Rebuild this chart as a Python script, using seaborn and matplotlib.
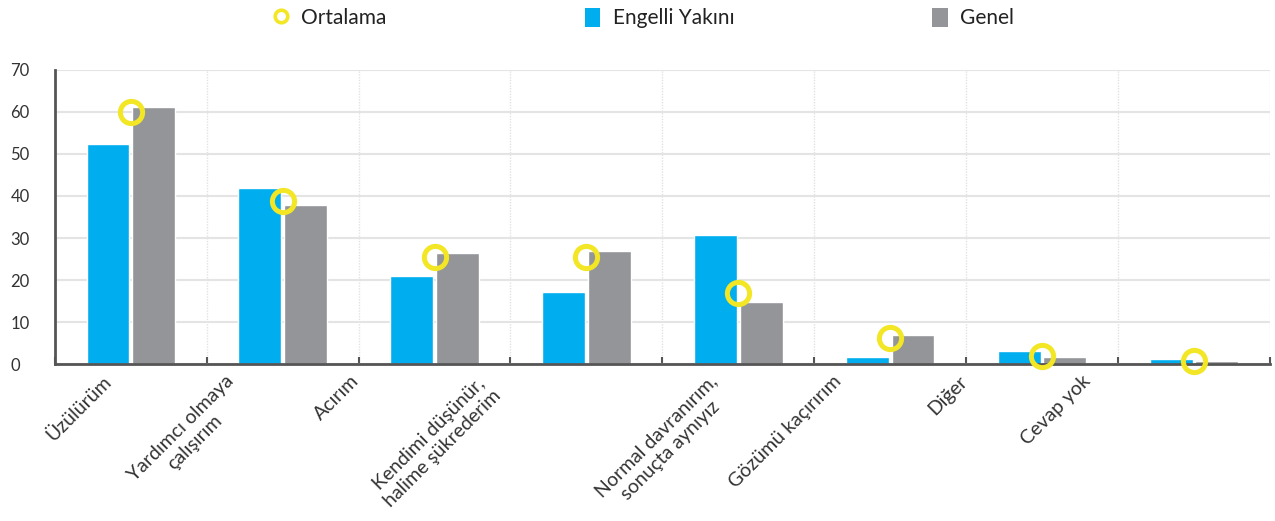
import numpy as np
import pandas as pd
import seaborn as sns
import matplotlib.pyplot as plt
from matplotlib.transforms import ScaledTranslation
from matplotlib.lines import Line2D
from matplotlib.patches import Patch

# data
categories = ["Üzülürüm", "Yardımcı olmaya\nçalışırım", "Acırım",
              "Kendimi düşünür,\nhalime şükrederim", "Normal davranırım,\nsonuçta aynıyız",
              "Gözümü kaçırırım", "Diğer", "Cevap yok"]
engelli_yakini = [52.4, 41.9, 21.0, 17.1, 30.7, 1.7, 3.1, 1.2]
genel = [61.2, 37.9, 26.4, 26.9, 14.8, 6.9, 1.7, 0.7]
ortalama = [60.0, 38.8, 25.5, 25.5, 16.9, 6.2, 1.9, 0.7]
series_names = ["Engelli Yakını", "Genel"]

blue = "#00AEEF"
grey = "#949599"
yellow = "#F2E625"
txt = "#333333"

df = pd.DataFrame({
    "kategori": categories * 2,
    "deger": engelli_yakini + genel,
    "seri": [series_names[0]] * len(categories) + [series_names[1]] * len(categories),
})

sns.set_theme(style="white")
plt.rcParams["font.family"] = ["Lato", "DejaVu Sans"]

fig, ax = plt.subplots(figsize=(12.75, 5.21), dpi=100)
fig.subplots_adjust(left=0.043, right=0.996, bottom=0.301, top=0.866)

sns.barplot(data=df, x="kategori", y="deger", hue="seri", hue_order=series_names,
            palette=[blue, grey], width=0.6, gap=0.06, saturation=1, legend=False, ax=ax)
ax.plot(np.arange(len(categories)), ortalama, linestyle="none", marker="o",
        markersize=16, markerfacecolor="none", markeredgecolor=yellow,
        markeredgewidth=3.6, zorder=5, clip_on=False)

n = len(categories)
ax.set_xlim(-0.5, n - 0.5)
ax.set_ylim(0, 70)
ax.set_yticks(range(0, 71, 10))
ax.set_xlabel("")
ax.set_ylabel("")

# category boundaries as major ticks (grid + small marks), labels on minor ticks
ax.set_xticks(np.arange(-0.5, n, 1.0))
ax.set_xticklabels([])
ax.set_xticks(np.arange(n), minor=True)
ax.set_xticklabels(categories, minor=True, rotation=45, ha="right",
                   rotation_mode="anchor", va="top", fontsize=14, color=txt,
                   multialignment="center", linespacing=1.2)
ax.tick_params(axis="x", which="major", direction="in", length=5, width=1.5,
               color="#555555", bottom=True)
ax.tick_params(axis="x", which="minor", length=0, pad=6)
ax.tick_params(axis="y", length=0, labelsize=12, labelcolor=txt, pad=32)
for lab in ax.get_yticklabels():
    lab.set_horizontalalignment("left")

# labels in the reference sit left of the category centre by varying amounts
label_shift = [-28, -58, -84, -108, -30, -58, -84, -112]
for lab, dx in zip(ax.get_xticklabels(minor=True), label_shift):
    lab.set_transform(lab.get_transform() + ScaledTranslation(dx / 100, 0, fig.dpi_scale_trans))

ax.grid(axis="y", color="#e4e4e4", linewidth=1.5)
ax.grid(axis="x", which="major", color="#e2e2e2", linewidth=1, linestyle=(0, (1, 1)))
ax.set_axisbelow(True)
for side in ["top", "right"]:
    ax.spines[side].set_visible(False)
for side in ["left", "bottom"]:
    ax.spines[side].set_color("#555555")
    ax.spines[side].set_linewidth(2)

handles = [
    Line2D([], [], linestyle="none", marker="o", markersize=9, markerfacecolor="none",
           markeredgecolor=yellow, markeredgewidth=2.6),
    Patch(facecolor=blue, edgecolor="none"),
    Patch(facecolor=grey, edgecolor="none"),
]
fig.legend(handles, ["Ortalama"] + series_names, loc="center", bbox_to_anchor=(0.505, 0.965),
           ncol=3, frameon=False, fontsize=15, columnspacing=9.5, handlelength=0.75,
           handleheight=1.0, handletextpad=0.6, labelcolor="#222222")

fig.savefig("out.png", dpi=100)
